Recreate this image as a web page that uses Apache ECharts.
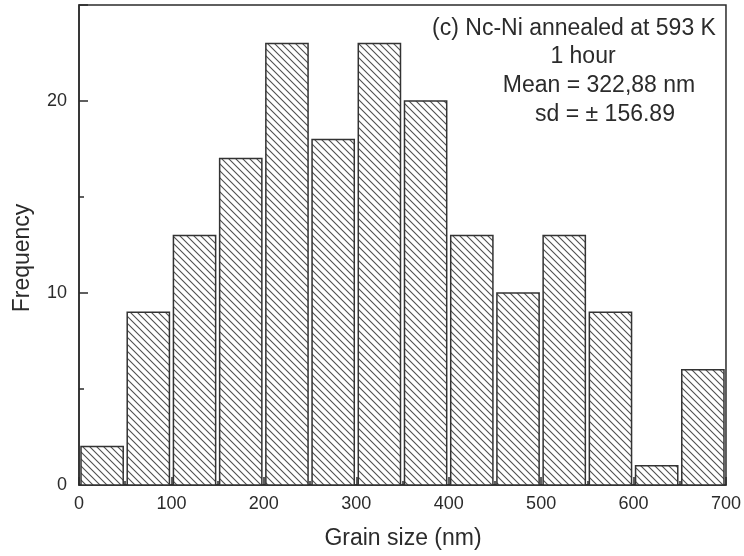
<!DOCTYPE html>
<html>
<head>
<meta charset="utf-8">
<style>
  html, body { margin: 0; padding: 0; background: #fff; }
  #chart { width: 744px; height: 556px; }
</style>
<script src="https://cdn.jsdelivr.net/npm/echarts@6/dist/echarts.min.js"></script>
</head>
<body>
<div id="chart"></div>
<script>
// Histogram bins (nm) and counts
const binStarts = [0, 50, 100, 150, 200, 250, 300, 350, 400, 450, 500, 550, 600, 650];
const binWidth = 50;
const frequencies = [2, 9, 13, 17, 23, 18, 23, 20, 13, 10, 13, 9, 1, 6];
const xTicks = [0, 100, 200, 300, 400, 500, 600, 700];
const yTicks = [0, 10, 20];
const noteLines = ['(c) Nc-Ni annealed at 593 K', '1 hour', 'Mean = 322,88 nm', 'sd = \u00b1 156.89'];

const FONT = '"Liberation Sans", Arial, sans-serif';
const INK = '#2b2b2b';

// Diagonal hatch tile ("\" direction)
function makeHatch() {
  const s = 7;
  const c = document.createElement('canvas');
  c.width = s; c.height = s;
  const g = c.getContext('2d');
  g.fillStyle = '#fff';
  g.fillRect(0, 0, s, s);
  g.strokeStyle = '#505050';
  g.lineWidth = 1.1;
  g.beginPath();
  g.moveTo(-1, -1); g.lineTo(s + 1, s + 1);
  g.moveTo(-1, s - 1); g.lineTo(1, s + 1);
  g.moveTo(s - 1, -1); g.lineTo(s + 1, 1);
  g.stroke();
  return c;
}
const hatch = { image: makeHatch(), repeat: 'repeat' };

const rows = binStarts.map((s, i) => [s, s + binWidth, frequencies[i]]);

const chart = echarts.init(document.getElementById('chart'), null, { renderer: 'canvas' });

chart.setOption({
  animation: false,
  backgroundColor: '#fff',
  grid: {
    left: 79, right: 17, top: 5, bottom: 71,
    show: true, borderColor: INK, borderWidth: 1.5, backgroundColor: 'transparent'
  },
  xAxis: {
    type: 'value',
    min: xTicks[0], max: xTicks[xTicks.length - 1], interval: 100,
    axisLine: { show: true, onZero: false, lineStyle: { color: INK, width: 1.5 } },
    axisTick: { show: true, inside: true, length: 8, lineStyle: { color: INK, width: 1.5 } },
    minorTick: { show: true, splitNumber: 2, length: 4, lineStyle: { color: INK, width: 1.5 } },
    axisLabel: { fontFamily: FONT, fontSize: 18, color: INK, margin: 10 },
    splitLine: { show: false }
  },
  yAxis: {
    type: 'value',
    min: 0, max: 25, interval: 10,
    axisLine: { show: true, lineStyle: { color: INK, width: 1.5 } },
    axisTick: { show: true, inside: true, length: 9, lineStyle: { color: INK, width: 1.5 } },
    minorTick: { show: true, splitNumber: 2, length: 5, lineStyle: { color: INK, width: 1.5 } },
    axisLabel: {
      fontFamily: FONT, fontSize: 18, color: INK, margin: 12,
      formatter: v => (yTicks.indexOf(v) >= 0 ? String(v) : '')
    },
    splitLine: { show: false }
  },
  series: [{
    type: 'custom',
    data: rows,
    encode: { x: [0, 1], y: 2 },
    renderItem: function (params, api) {
      const top = api.coord([api.value(0), api.value(2)]);
      const base = api.coord([api.value(1), 0]);
      return {
        type: 'rect',
        shape: { x: top[0] + 2, y: top[1], width: base[0] - top[0] - 4, height: base[1] - top[1] },
        style: { fill: hatch, stroke: '#333', lineWidth: 1.5 }
      };
    }
  }],
  graphic: [
    { type: 'text', x: 403, y: 539, style: { text: 'Grain size (nm)', font: '23px ' + FONT, fill: INK, textAlign: 'center', textVerticalAlign: 'middle' } },
    { type: 'text', x: 23, y: 258, rotation: Math.PI / 2, style: { text: 'Frequency', font: '23px ' + FONT, fill: INK, textAlign: 'center', textVerticalAlign: 'middle' } },
    { type: 'text', x: 574, y: 28.5, style: { text: noteLines[0], font: '23px ' + FONT, fill: INK, textAlign: 'center', textVerticalAlign: 'middle' } },
    { type: 'text', x: 583, y: 57, style: { text: noteLines[1], font: '23px ' + FONT, fill: INK, textAlign: 'center', textVerticalAlign: 'middle' } },
    { type: 'text', x: 599, y: 86, style: { text: noteLines[2], font: '23px ' + FONT, fill: INK, textAlign: 'center', textVerticalAlign: 'middle' } },
    { type: 'text', x: 605, y: 114.5, style: { text: noteLines[3], font: '23px ' + FONT, fill: INK, textAlign: 'center', textVerticalAlign: 'middle' } }
  ]
});
</script>
</body>
</html>
